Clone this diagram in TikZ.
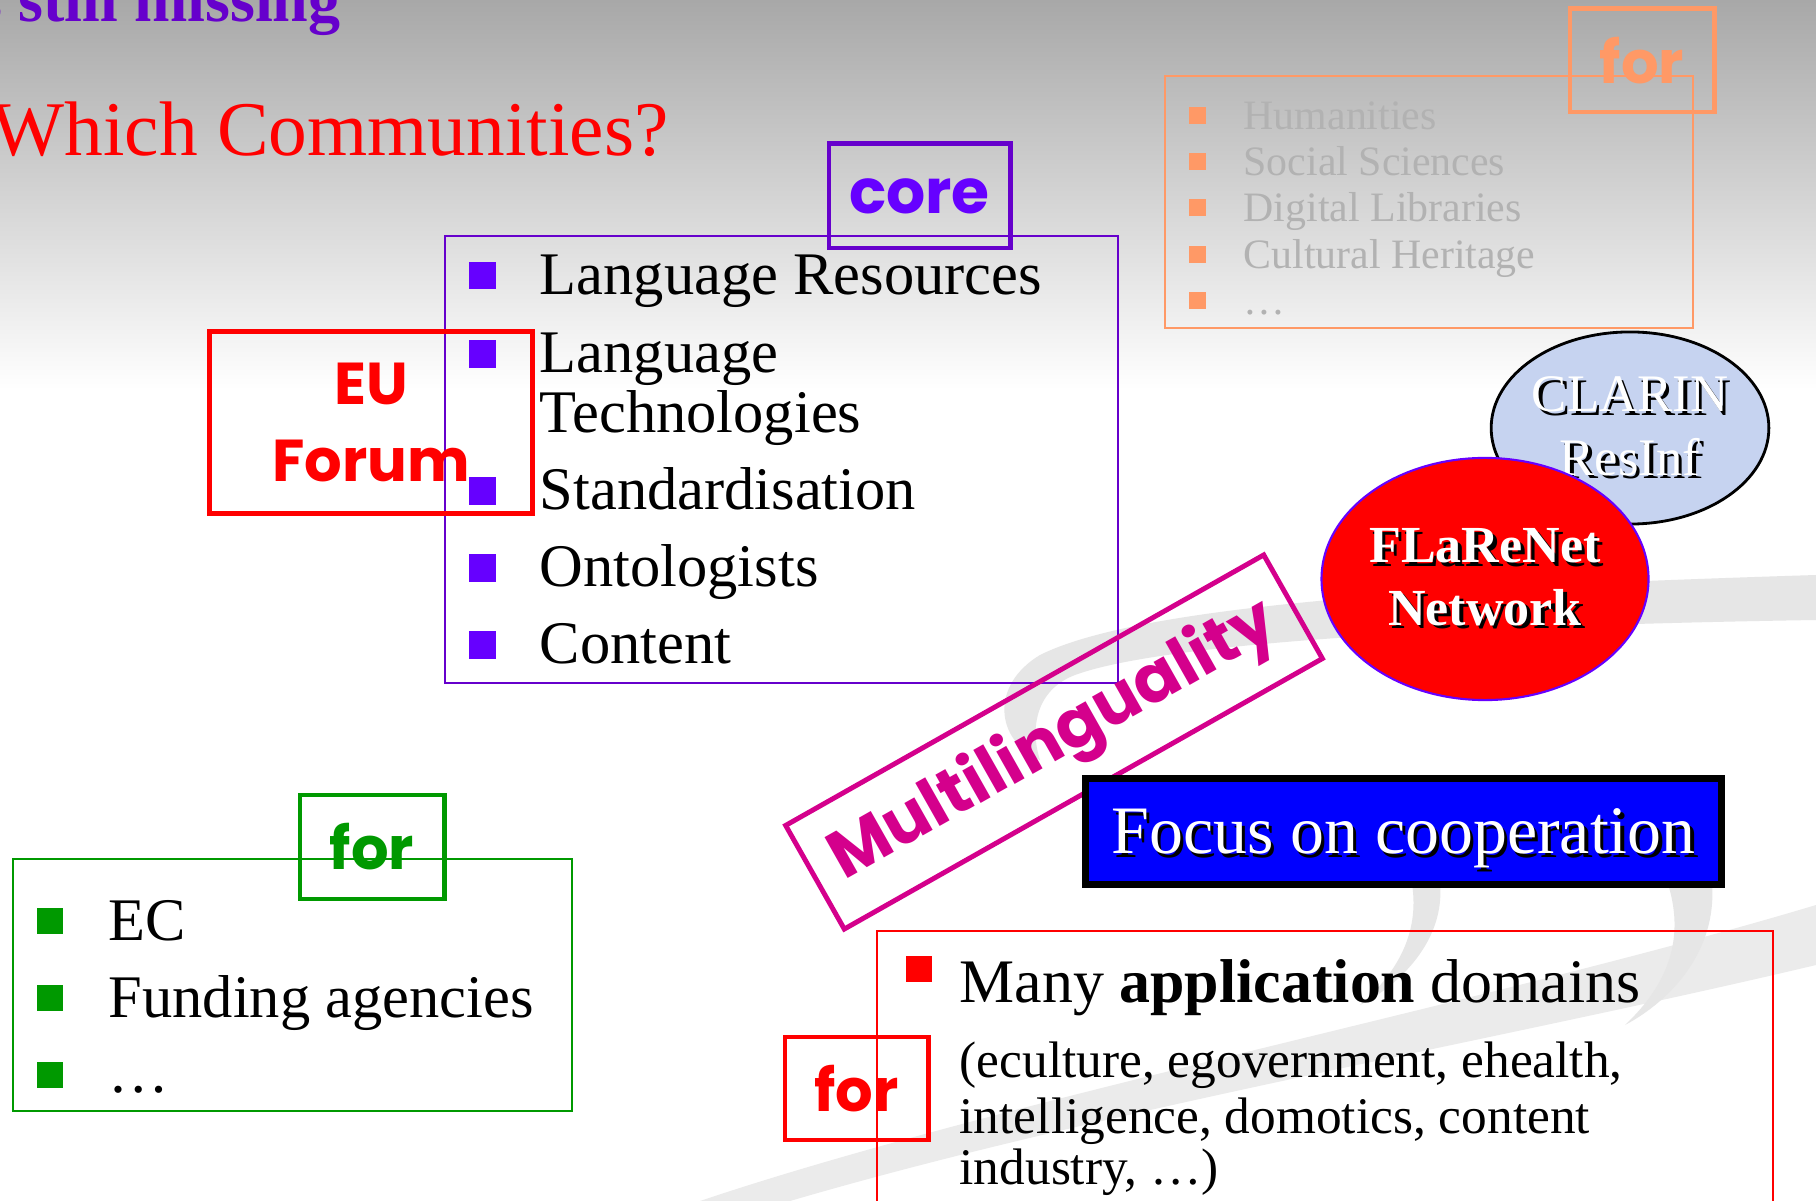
\documentclass[tikz,border=0pt]{standalone}
\usepackage{fontspec}
\setmainfont{Liberation Serif}
\newfontfamily\comic{Poppins}
\usetikzlibrary{shapes.geometric}
\definecolor{bgtop}{RGB}{168,168,168}
\definecolor{purp}{RGB}{102,0,204}
\definecolor{violetB}{RGB}{102,0,255}
\definecolor{grn}{RGB}{0,153,0}
\definecolor{orng}{RGB}{255,153,102}
\definecolor{magen}{RGB}{212,0,140}
\definecolor{swoosh}{RGB}{230,230,230}
\definecolor{clarinfill}{RGB}{198,211,240}
\definecolor{itemgray}{RGB}{178,178,178}
\newcommand\shd[2][black]{\leavevmode\rlap{\kern1pt\raisebox{-1pt}{\textcolor{#1}{#2}}}#2}
\begin{document}
\begin{tikzpicture}[x=0.01cm,y=-0.01cm,
  lbl/.style={draw, line width=1.4pt, inner sep=0pt, outer sep=0pt, align=center,
    font=\comic\bfseries\fontsize{16.8pt}{22pt}\selectfont},
  thinbox/.style={draw, line width=0.6pt, inner sep=0pt, outer sep=0pt},
  item/.style={anchor=base west, inner sep=0pt, font=\fontsize{17.2pt}{20.6pt}\selectfont},
  smallitem/.style={anchor=base west, inner sep=0pt, text=itemgray, font=\fontsize{11.9pt}{15pt}\selectfont},
  paren/.style={anchor=base west, inner sep=0pt, font=\fontsize{14.6pt}{17pt}\selectfont},
  bulP/.style={fill=violetB, inner sep=0pt, minimum size=0.27cm},
  bulG/.style={fill=grn, inner sep=0pt, minimum size=0.25cm},
  bulO/.style={fill=orng, inner sep=0pt, minimum size=0.17cm},
  bulR/.style={fill=red, inner sep=0pt, minimum size=0.26cm}]
\useasboundingbox (0,0) rectangle (1816,1201);
\clip (0,0) rectangle (1816,1201);
% background
\shade[top color=bgtop, bottom color=white] (0,0) rectangle (1816,390);
\fill[white] (0,389) rectangle (1816,1201);
% swooshes
\fill[swoosh] (1816,575) .. controls (1500,585) and (1150,600) .. (1040,655)
  .. controls (990,685) and (995,740) .. (1040,760)
  .. controls (1030,730) and (1035,690) .. (1075,675)
  .. controls (1170,640) and (1500,625) .. (1816,620) -- cycle;
\fill[swoosh!80!white] (1816,905) .. controls (1500,1000) and (1000,1100) .. (700,1201)
  -- (790,1201) .. controls (1100,1110) and (1500,1040) .. (1816,965) -- cycle;
\fill[swoosh] (1440,884) .. controls (1445,940) and (1400,985) .. (1360,1005)
  .. controls (1395,975) and (1420,935) .. (1412,884) -- cycle;
\fill[swoosh] (1712,884) .. controls (1717,950) and (1672,1000) .. (1625,1025)
  .. controls (1662,990) and (1687,945) .. (1668,884) -- cycle;
% title
\node[anchor=base west, inner sep=0pt, text=purp, font=\bfseries\fontsize{18.2pt}{22pt}\selectfont] (prev) at (-23,22) {s still missing};
\node[anchor=base west, inner sep=0pt, text=red, font=\fontsize{22pt}{26pt}\selectfont] (title) at (-9,156) {Which Communities?};
% orange group
\node[thinbox, draw=orng, minimum width=5.28cm, minimum height=2.52cm] (obox) at (1429,202) {};
\node[lbl, draw=orng, text=orng, minimum width=1.44cm, minimum height=1.03cm] (ofor) at (1642,60.5) {for};
\node[bulO] (ob1) at (1197,116) {};
\node[bulO] (ob2) at (1197,162) {};
\node[bulO] (ob3) at (1197,208) {};
\node[bulO] (ob4) at (1197,255) {};
\node[bulO] (ob5) at (1197,301) {};
\node[smallitem] (oi1) at (1243,130) {Humanities};
\node[smallitem] (oi2) at (1243,176) {Social Sciences};
\node[smallitem] (oi3) at (1243,222) {Digital Libraries};
\node[smallitem] (oi4) at (1243,269) {Cultural Heritage};
\node[smallitem] (oi5) at (1243,315) {\dots};
% core group
\node[thinbox, draw=purp, minimum width=6.73cm, minimum height=4.47cm] (cbox) at (781.5,459.5) {};
\node[lbl, draw=purp, text=violetB, minimum width=1.81cm, minimum height=1.04cm, font=\comic\bfseries\fontsize{17.5pt}{22pt}\selectfont] (core) at (919.5,196) {\raisebox{-2pt}{core}};
\node[bulP] (cb1) at (482,276) {};
\node[bulP] (cb2) at (482,354) {};
\node[bulP] (cb3) at (482,491) {};
\node[bulP] (cb4) at (482,568) {};
\node[bulP] (cb5) at (482,645) {};
\node[item] (ci1) at (539,295) {Language Resources};
\node[item] (ci2a) at (539,373) {Language};
\node[item] (ci2b) at (539,433) {Technologies};
\node[item] (ci3) at (539,510) {Standardisation};
\node[item] (ci4) at (539,587) {Ontologists};
\node[item] (ci5) at (539,664) {Content};
\node[lbl, draw=red, text=red, minimum width=3.22cm, minimum height=1.81cm] (eu) at (371,422.5) {EU\\Forum};
% green group
\node[thinbox, draw=grn, minimum width=5.59cm, minimum height=2.52cm] (gbox) at (292.5,985) {};
\node[lbl, draw=grn, text=grn, minimum width=1.44cm, minimum height=1.04cm] (gfor) at (372,847) {for};
\node[bulG] (gb1) at (50,921) {};
\node[bulG] (gb2) at (50,998) {};
\node[bulG] (gb3) at (50,1075) {};
\node[item] (gi1) at (108,940) {EC};
\node[item] (gi2) at (108,1017) {Funding agencies};
\node[item] (gi3) at (108,1092) {\dots};
% ellipses
\node[ellipse, draw=black, line width=0.8pt, fill=clarinfill, minimum width=2.6cm, minimum height=1.92cm, inner sep=0pt, align=center, text=white, font=\fontsize{15pt}{18pt}\selectfont] (clarin) at (1630,428) {\shd{CLARIN}\\\shd{ResInf}};
\node[ellipse, draw=violetB, line width=0.6pt, fill=red, minimum width=3.2cm, minimum height=2.42cm, inner sep=0pt, align=center, text=white, font=\bfseries\fontsize{14.8pt}{17.8pt}\selectfont] (flare) at (1485,579) {\shd{FLaReNet}\\\shd{Network}};
% multilinguality
\node[draw=magen, line width=1.4pt, rotate=29.5, minimum width=5.49cm, minimum height=1.19cm, inner sep=0pt, text=magen, font=\comic\bfseries\fontsize{19pt}{23pt}\selectfont] (multi) at (1054,742) {Multilinguality};
% focus
\node[draw=black, line width=2pt, fill=blue, minimum width=6.35cm, minimum height=1.05cm, inner sep=0pt, text depth=0pt, text=white, font=\fontsize{19.3pt}{23pt}\selectfont] (focus) at (1403.5,831.5) {\shd{Focus on cooperation}};
% bottom red group
\node[thinbox, draw=red, minimum width=8.96cm, minimum height=2.99cm] (rbox) at (1325,1080.5) {};
\node[lbl, draw=red, text=red, minimum width=1.43cm, minimum height=1.03cm] (rfor) at (856.5,1088.5) {for};
\node[bulR] (rb1) at (919,969) {};
\node[anchor=base west, inner sep=0pt, font=\fontsize{17.6pt}{21pt}\selectfont] (ri1) at (959,1002) {Many \textbf{application} domains};
\node[paren] (rp1) at (959,1077) {(eculture, egovernment, ehealth,};
\node[paren] (rp2) at (959,1133) {intelligence, domotics, content};
\node[paren] (rp3) at (959,1184) {industry, \dots)};
\end{tikzpicture}
\end{document}
